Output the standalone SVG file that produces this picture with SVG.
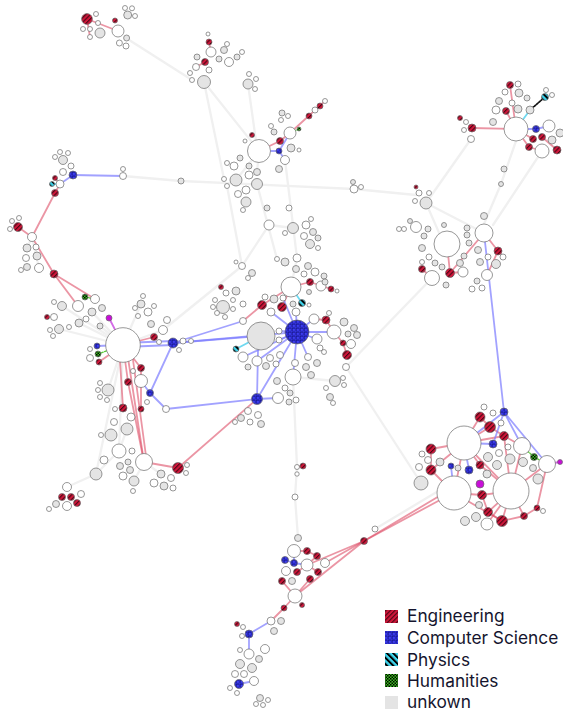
<svg xmlns="http://www.w3.org/2000/svg" width="563" height="711" viewBox="0 0 563 711">
<defs>
<pattern id="pe" patternUnits="userSpaceOnUse" width="3.2" height="3.2" patternTransform="rotate(45)"><rect width="3.2" height="3.2" fill="#d0163a"/><rect width="1.1" height="3.2" fill="#4a0614"/></pattern>
<pattern id="pc" patternUnits="userSpaceOnUse" width="4" height="4"><rect width="4" height="4" fill="#3d3df2"/><rect x="0.6" y="0.6" width="2.6" height="2.6" fill="none" stroke="#15158a" stroke-width="0.6"/></pattern>
<pattern id="pp" patternUnits="userSpaceOnUse" width="4.4" height="4.4" patternTransform="rotate(-45)"><rect width="4.4" height="4.4" fill="#3fd6ee"/><rect width="2" height="4.4" fill="#000"/></pattern>
<pattern id="ph" patternUnits="userSpaceOnUse" width="3" height="3"><rect width="3" height="3" fill="#39c21f"/><rect width="1.5" height="1.5" fill="#000"/><rect x="1.5" y="1.5" width="1.5" height="1.5" fill="#000"/></pattern>
</defs>
<style>
#nodes circle{stroke:#6b6b6b;stroke-width:0.7}
.n{fill:#fff}.u{fill:#e4e4e4}.e{fill:url(#pe)}.c{fill:url(#pc)}.p{fill:url(#pp)}.h{fill:url(#ph)}.m{fill:#c80fd8}
#edges line{fill:none;stroke-linecap:round}
.g{stroke:#f0f0f0;stroke-width:2.3}
.r{stroke:#dd4f68;stroke-opacity:0.6;stroke-width:1.8}
.b{stroke:#7b7bff;stroke-opacity:0.7;stroke-width:1.8}
.y{stroke:#6fd9f0;stroke-width:1.8}
.k{stroke:#111;stroke-width:1.8;stroke-dasharray:1.5 1.5}
.gr{stroke:#5ccc3c;stroke-width:1.4;stroke-dasharray:2 1.5}
.mg{stroke:#d36ce6;stroke-width:1.8}
.lt{font-family:Inter,"Liberation Sans",sans-serif;font-size:17.3px;fill:#15152e}
</style>
<rect width="563" height="711" fill="#fff"/>
<g id="edges">
<line class="g" x1="126" y1="38" x2="192" y2="80"/>
<line class="g" x1="204" y1="82" x2="259" y2="151"/>
<line class="g" x1="248" y1="84" x2="256" y2="141"/>
<line class="g" x1="204" y1="82" x2="224" y2="179"/>
<line class="g" x1="227" y1="186" x2="242" y2="266"/>
<line class="g" x1="123" y1="176" x2="181" y2="181"/>
<line class="g" x1="181" y1="181" x2="354" y2="189"/>
<line class="g" x1="354" y1="189" x2="416" y2="195"/>
<line class="g" x1="257" y1="184" x2="277" y2="259"/>
<line class="g" x1="285" y1="160" x2="297" y2="258"/>
<line class="g" x1="269" y1="225" x2="242" y2="266"/>
<line class="g" x1="269" y1="225" x2="293" y2="228"/>
<line class="g" x1="291" y1="287" x2="297" y2="258"/>
<line class="g" x1="293" y1="377" x2="297" y2="467"/>
<line class="g" x1="297" y1="467" x2="295" y2="497"/>
<line class="g" x1="295" y1="497" x2="298" y2="538"/>
<line class="g" x1="346" y1="367" x2="432" y2="278"/>
<line class="g" x1="346" y1="367" x2="421" y2="483"/>
<line class="g" x1="123" y1="345" x2="163" y2="330"/>
<line class="g" x1="163" y1="330" x2="242" y2="266"/>
<line class="g" x1="123" y1="345" x2="59" y2="329"/>
<line class="g" x1="123" y1="345" x2="92" y2="312"/>
<line class="g" x1="123" y1="345" x2="62" y2="306"/>
<line class="g" x1="123" y1="345" x2="141" y2="304"/>
<line class="g" x1="123" y1="345" x2="100" y2="326"/>
<line class="g" x1="123" y1="345" x2="79" y2="323"/>
<line class="g" x1="123" y1="345" x2="108" y2="390"/>
<line class="g" x1="123" y1="345" x2="119" y2="451"/>
<line class="g" x1="123" y1="345" x2="96" y2="474"/>
<line class="g" x1="119" y1="451" x2="96" y2="474"/>
<line class="g" x1="96" y1="474" x2="67" y2="487"/>
<line class="g" x1="144" y1="462" x2="161" y2="474"/>
<line class="g" x1="144" y1="462" x2="134" y2="481"/>
<line class="g" x1="119" y1="451" x2="127" y2="429"/>
<line class="g" x1="32" y1="237" x2="27" y2="248"/>
<line class="g" x1="32" y1="237" x2="39" y2="268"/>
<line class="g" x1="471" y1="139" x2="426" y2="203"/>
<line class="g" x1="516" y1="141" x2="501" y2="184"/>
<line class="g" x1="501" y1="184" x2="484" y2="224"/>
<line class="g" x1="542" y1="151" x2="493" y2="225"/>
<line class="g" x1="426" y1="203" x2="484" y2="233"/>
<line class="g" x1="426" y1="203" x2="440" y2="235"/>
<line class="g" x1="375" y1="529" x2="440" y2="490"/>
<line class="g" x1="259" y1="151" x2="236" y2="180"/>
<line class="g" x1="259" y1="151" x2="257" y2="172"/>
<line class="g" x1="293" y1="377" x2="335" y2="381"/>
<line class="r" x1="87" y1="19" x2="118" y2="31"/>
<line class="r" x1="87" y1="19" x2="90" y2="37"/>
<line class="r" x1="209" y1="42" x2="211" y2="52"/>
<line class="r" x1="205" y1="62" x2="196" y2="67"/>
<line class="r" x1="280" y1="141" x2="259" y2="151"/>
<line class="r" x1="290" y1="133" x2="280" y2="141"/>
<line class="r" x1="290" y1="133" x2="325" y2="101"/>
<line class="r" x1="55" y1="193" x2="32" y2="237"/>
<line class="r" x1="55" y1="193" x2="60" y2="184"/>
<line class="r" x1="55" y1="178" x2="60" y2="184"/>
<line class="r" x1="18" y1="227" x2="32" y2="237"/>
<line class="r" x1="32" y1="237" x2="54" y2="274"/>
<line class="r" x1="54" y1="274" x2="78" y2="306"/>
<line class="r" x1="54" y1="274" x2="95" y2="299"/>
<line class="r" x1="123" y1="345" x2="154" y2="337"/>
<line class="r" x1="123" y1="345" x2="141" y2="368"/>
<line class="r" x1="123" y1="345" x2="128" y2="382"/>
<line class="r" x1="119" y1="345" x2="123" y2="408"/>
<line class="r" x1="126" y1="345" x2="144" y2="462"/>
<line class="r" x1="131" y1="345" x2="146" y2="456"/>
<line class="r" x1="128" y1="382" x2="144" y2="462"/>
<line class="r" x1="141" y1="368" x2="141" y2="381"/>
<line class="r" x1="141" y1="381" x2="141" y2="409"/>
<line class="r" x1="144" y1="462" x2="178" y2="468"/>
<line class="r" x1="178" y1="468" x2="257" y2="399"/>
<line class="r" x1="99" y1="362" x2="123" y2="345"/>
<line class="r" x1="243" y1="321" x2="262" y2="305"/>
<line class="r" x1="262" y1="305" x2="291" y2="287"/>
<line class="r" x1="282" y1="307" x2="291" y2="287"/>
<line class="r" x1="310" y1="282" x2="291" y2="287"/>
<line class="r" x1="310" y1="282" x2="331" y2="289"/>
<line class="r" x1="314" y1="319" x2="326" y2="320"/>
<line class="r" x1="326" y1="320" x2="334" y2="332"/>
<line class="r" x1="334" y1="332" x2="343" y2="343"/>
<line class="r" x1="343" y1="343" x2="347" y2="355"/>
<line class="r" x1="297" y1="467" x2="303" y2="466"/>
<line class="r" x1="364" y1="541" x2="440" y2="500"/>
<line class="r" x1="364" y1="541" x2="446" y2="492"/>
<line class="r" x1="295" y1="596" x2="364" y2="541"/>
<line class="r" x1="307" y1="565" x2="364" y2="541"/>
<line class="r" x1="325" y1="563" x2="364" y2="541"/>
<line class="r" x1="295" y1="596" x2="284" y2="608"/>
<line class="r" x1="284" y1="608" x2="271" y2="621"/>
<line class="r" x1="307" y1="551" x2="294" y2="551"/>
<line class="r" x1="317" y1="556" x2="307" y2="565"/>
<line class="r" x1="297" y1="572" x2="307" y2="565"/>
<line class="r" x1="318" y1="572" x2="307" y2="565"/>
<line class="r" x1="282" y1="581" x2="295" y2="596"/>
<line class="r" x1="310" y1="579" x2="295" y2="596"/>
<line class="r" x1="307" y1="551" x2="317" y2="556"/>
<line class="r" x1="472" y1="128" x2="516" y2="129"/>
<line class="r" x1="510" y1="85" x2="516" y2="129"/>
<line class="r" x1="506" y1="111" x2="516" y2="129"/>
<line class="r" x1="533" y1="139" x2="516" y2="129"/>
<line class="r" x1="529" y1="147" x2="516" y2="129"/>
<line class="r" x1="542" y1="137" x2="557" y2="150"/>
<line class="r" x1="529" y1="147" x2="542" y2="151"/>
<line class="r" x1="447" y1="244" x2="450" y2="273"/>
<line class="r" x1="450" y1="273" x2="484" y2="233"/>
<line class="r" x1="498" y1="251" x2="484" y2="233"/>
<line class="r" x1="498" y1="251" x2="487" y2="275"/>
<line class="r" x1="422" y1="269" x2="432" y2="278"/>
<line class="r" x1="450" y1="273" x2="463" y2="272"/>
<line class="r" x1="480" y1="417" x2="464" y2="443"/>
<line class="r" x1="490" y1="427" x2="464" y2="443"/>
<line class="r" x1="504" y1="436" x2="464" y2="443"/>
<line class="r" x1="480" y1="417" x2="490" y2="427"/>
<line class="r" x1="490" y1="427" x2="504" y2="436"/>
<line class="r" x1="431" y1="449" x2="464" y2="443"/>
<line class="r" x1="431" y1="470" x2="464" y2="443"/>
<line class="r" x1="431" y1="449" x2="431" y2="470"/>
<line class="r" x1="431" y1="470" x2="454" y2="493"/>
<line class="r" x1="482" y1="495" x2="454" y2="493"/>
<line class="r" x1="482" y1="495" x2="511" y2="491"/>
<line class="r" x1="488" y1="512" x2="511" y2="491"/>
<line class="r" x1="502" y1="521" x2="511" y2="491"/>
<line class="r" x1="502" y1="521" x2="454" y2="493"/>
<line class="r" x1="488" y1="512" x2="502" y2="521"/>
<line class="r" x1="487" y1="524" x2="511" y2="491"/>
<line class="r" x1="480" y1="465" x2="511" y2="491"/>
<line class="r" x1="480" y1="465" x2="464" y2="443"/>
<line class="r" x1="504" y1="436" x2="511" y2="491"/>
<line class="r" x1="524" y1="516" x2="511" y2="491"/>
<line class="r" x1="537" y1="508" x2="547" y2="464"/>
<line class="r" x1="537" y1="508" x2="524" y2="516"/>
<line class="r" x1="482" y1="495" x2="488" y2="512"/>
<line class="r" x1="464" y1="443" x2="511" y2="491"/>
<line class="r" x1="454" y1="493" x2="464" y2="443"/>
<line class="r" x1="504" y1="436" x2="522" y2="446"/>
<line class="r" x1="522" y1="446" x2="511" y2="491"/>
<line class="r" x1="547" y1="464" x2="511" y2="491"/>
<line class="r" x1="502" y1="521" x2="524" y2="516"/>
<line class="b" x1="73" y1="175" x2="123" y2="176"/>
<line class="b" x1="73" y1="175" x2="60" y2="184"/>
<line class="b" x1="123" y1="343" x2="173" y2="341"/>
<line class="b" x1="123" y1="347" x2="173" y2="345"/>
<line class="b" x1="173" y1="343" x2="261" y2="336"/>
<line class="b" x1="173" y1="343" x2="297" y2="332"/>
<line class="b" x1="173" y1="343" x2="243" y2="321"/>
<line class="b" x1="173" y1="343" x2="150" y2="393"/>
<line class="b" x1="150" y1="393" x2="166" y2="409"/>
<line class="b" x1="166" y1="409" x2="257" y2="399"/>
<line class="b" x1="257" y1="399" x2="258" y2="350"/>
<line class="b" x1="257" y1="399" x2="278" y2="398"/>
<line class="b" x1="257" y1="399" x2="297" y2="332"/>
<line class="b" x1="141" y1="381" x2="150" y2="393"/>
<line class="b" x1="97" y1="346" x2="123" y2="345"/>
<line class="b" x1="297" y1="332" x2="314" y2="319"/>
<line class="b" x1="297" y1="332" x2="317" y2="339"/>
<line class="b" x1="297" y1="332" x2="279" y2="331"/>
<line class="b" x1="297" y1="332" x2="279" y2="340"/>
<line class="b" x1="297" y1="332" x2="296" y2="312"/>
<line class="b" x1="297" y1="332" x2="283" y2="298"/>
<line class="b" x1="297" y1="332" x2="271" y2="312"/>
<line class="b" x1="297" y1="332" x2="293" y2="377"/>
<line class="b" x1="297" y1="332" x2="308" y2="357"/>
<line class="b" x1="297" y1="332" x2="257" y2="361"/>
<line class="b" x1="297" y1="332" x2="243" y2="357"/>
<line class="b" x1="297" y1="332" x2="334" y2="332"/>
<line class="b" x1="484" y1="233" x2="504" y2="412"/>
<line class="b" x1="504" y1="412" x2="464" y2="443"/>
<line class="b" x1="504" y1="412" x2="522" y2="446"/>
<line class="b" x1="504" y1="412" x2="547" y2="464"/>
<line class="b" x1="504" y1="412" x2="493" y2="444"/>
<line class="b" x1="493" y1="444" x2="464" y2="443"/>
<line class="b" x1="469" y1="470" x2="464" y2="443"/>
<line class="b" x1="451" y1="466" x2="454" y2="493"/>
<line class="b" x1="536" y1="129" x2="516" y2="129"/>
<line class="b" x1="536" y1="129" x2="549" y2="126"/>
<line class="b" x1="279" y1="151" x2="259" y2="151"/>
<line class="b" x1="279" y1="151" x2="290" y2="133"/>
<line class="b" x1="279" y1="151" x2="285" y2="160"/>
<line class="b" x1="285" y1="560" x2="294" y2="563"/>
<line class="b" x1="294" y1="563" x2="307" y2="565"/>
<line class="b" x1="294" y1="551" x2="294" y2="563"/>
<line class="b" x1="249" y1="634" x2="271" y2="621"/>
<line class="b" x1="249" y1="634" x2="249" y2="654"/>
<line class="b" x1="239" y1="684" x2="254" y2="681"/>
<line class="y" x1="302" y1="303" x2="291" y2="287"/>
<line class="y" x1="236" y1="349" x2="261" y2="336"/>
<line class="y" x1="516" y1="129" x2="530" y2="110"/>
<line class="y" x1="52" y1="184" x2="60" y2="184"/>
<line class="k" x1="530" y1="110" x2="545" y2="97"/>
<line class="gr" x1="534" y1="457" x2="522" y2="446"/>
<line class="gr" x1="534" y1="457" x2="547" y2="464"/>
<line class="gr" x1="98" y1="354" x2="123" y2="345"/>
<line class="gr" x1="85" y1="297" x2="95" y2="299"/>
<line class="gr" x1="299" y1="129" x2="290" y2="133"/>
<line class="mg" x1="109" y1="318" x2="123" y2="345"/>
<line class="mg" x1="560" y1="462" x2="547" y2="464"/>
</g>
<g id="nodes">
<g id="a1"><circle class="e" cx="87" cy="19" r="5.4"/></g>
<g id="a2"><circle class="n" cx="96" cy="14" r="2.5"/></g>
<g id="a3"><circle class="n" cx="98" cy="23" r="2.5"/></g>
<g id="a4"><circle class="n" cx="83" cy="29" r="2.5"/></g>
<g id="a5"><circle class="n" cx="90" cy="29" r="2.5"/></g>
<g id="a6"><circle class="n" cx="90" cy="37" r="2.5"/></g>
<g id="a7"><circle class="u" cx="100" cy="33" r="5"/></g>
<g id="a8"><circle class="n" cx="118" cy="31" r="6"/></g>
<g id="a9"><circle class="e" cx="115" cy="20.5" r="2.5"/></g>
<g id="a10"><circle class="u" cx="127.7" cy="15" r="4"/></g>
<g id="a11"><circle class="n" cx="125" cy="8" r="2.5"/></g>
<g id="a12"><circle class="n" cx="132" cy="8.3" r="2.5"/></g>
<g id="a13"><circle class="n" cx="135" cy="16" r="2.5"/></g>
<g id="a14"><circle class="u" cx="126.6" cy="38" r="3"/></g>
<g id="a15"><circle class="n" cx="119.4" cy="43" r="3"/></g>
<g id="a16"><circle class="n" cx="126" cy="46" r="3"/></g>
<g id="b1"><circle class="n" cx="208" cy="34" r="2"/></g>
<g id="b2"><circle class="e" cx="209" cy="42" r="3"/></g>
<g id="b3"><circle class="n" cx="211" cy="52" r="5"/></g>
<g id="b4"><circle class="u" cx="224" cy="50" r="3.5"/></g>
<g id="b5"><circle class="n" cx="227" cy="44" r="2.5"/></g>
<g id="b6"><circle class="u" cx="219" cy="59" r="3"/></g>
<g id="b7"><circle class="n" cx="229" cy="62" r="4.5"/></g>
<g id="b8"><circle class="u" cx="237" cy="57" r="3"/></g>
<g id="b9"><circle class="n" cx="242" cy="52" r="2.5"/></g>
<g id="b10"><circle class="e" cx="205" cy="62" r="3.5"/></g>
<g id="b11"><circle class="n" cx="196" cy="67" r="3.5"/></g>
<g id="b12"><circle class="u" cx="197" cy="57" r="3"/></g>
<g id="b13"><circle class="n" cx="209" cy="70" r="3"/></g>
<g id="b14"><circle class="n" cx="190" cy="73" r="2.5"/></g>
<g id="b15"><circle class="n" cx="192" cy="80" r="2.5"/></g>
<g id="b16"><circle class="u" cx="204" cy="82" r="6.5"/></g>
<g id="b17"><circle class="u" cx="248" cy="84" r="5"/></g>
<g id="b18"><circle class="n" cx="249" cy="74" r="2.5"/></g>
<g id="b19"><circle class="n" cx="256" cy="79" r="2.5"/></g>
<g id="b20"><circle class="n" cx="255" cy="89" r="2.5"/></g>
<g id="c1"><circle class="e" cx="252" cy="135" r="2.5"/></g>
<g id="c2"><circle class="n" cx="245" cy="141" r="2"/></g>
<g id="c3"><circle class="n" cx="259" cy="151" r="11.5"/></g>
<g id="c4"><circle class="e" cx="280" cy="141" r="3.5"/></g>
<g id="c5"><circle class="c" cx="279" cy="151" r="3"/></g>
<g id="c6"><circle class="n" cx="290" cy="133" r="6"/></g>
<g id="c7"><circle class="h" cx="299" cy="129" r="2"/></g>
<g id="c8"><circle class="u" cx="291" cy="148" r="4"/></g>
<g id="c9"><circle class="n" cx="299" cy="150" r="2"/></g>
<g id="c10"><circle class="n" cx="285" cy="160" r="4.5"/></g>
<g id="c11"><circle class="u" cx="279" cy="169" r="3.5"/></g>
<g id="c12"><circle class="n" cx="271" cy="126" r="2.5"/></g>
<g id="c13"><circle class="u" cx="274" cy="132" r="3"/></g>
<g id="c14"><circle class="u" cx="282" cy="113" r="3"/></g>
<g id="c15"><circle class="n" cx="288" cy="116" r="2.5"/></g>
<g id="c16"><circle class="n" cx="281" cy="120" r="2.5"/></g>
<g id="c17"><circle class="e" cx="309" cy="116" r="3"/></g>
<g id="c18"><circle class="n" cx="315" cy="110" r="3"/></g>
<g id="c19"><circle class="e" cx="320" cy="106" r="3"/></g>
<g id="c20"><circle class="n" cx="325" cy="101" r="2.5"/></g>
<g id="c21"><circle class="u" cx="240" cy="158" r="3"/></g>
<g id="c22"><circle class="n" cx="234" cy="166" r="4"/></g>
<g id="c23"><circle class="n" cx="227" cy="163" r="2.5"/></g>
<g id="c24"><circle class="u" cx="249" cy="166" r="3"/></g>
<g id="c25"><circle class="u" cx="257" cy="172" r="3.5"/></g>
<g id="c26"><circle class="n" cx="249" cy="175" r="4"/></g>
<g id="c27"><circle class="u" cx="236" cy="180" r="6"/></g>
<g id="c28"><circle class="n" cx="224" cy="179" r="2.5"/></g>
<g id="c29"><circle class="n" cx="227" cy="186" r="2.5"/></g>
<g id="c30"><circle class="u" cx="257" cy="184" r="5.5"/></g>
<g id="c31"><circle class="n" cx="246" cy="190" r="4"/></g>
<g id="c32"><circle class="n" cx="238" cy="194" r="3.5"/></g>
<g id="c33"><circle class="u" cx="246" cy="202" r="5"/></g>
<g id="c34"><circle class="n" cx="243" cy="210" r="2.5"/></g>
<g id="s1"><circle class="u" cx="181" cy="181" r="3"/></g>
<g id="s2"><circle class="u" cx="267" cy="208" r="3"/></g>
<g id="s3"><circle class="n" cx="289" cy="208" r="3"/></g>
<g id="c35"><circle class="n" cx="269" cy="225" r="5"/></g>
<g id="c36"><circle class="u" cx="293" cy="228" r="5.5"/></g>
<g id="c37"><circle class="n" cx="285" cy="233" r="2.5"/></g>
<g id="c38"><circle class="n" cx="306" cy="225" r="4"/></g>
<g id="c39"><circle class="n" cx="311" cy="219" r="2.5"/></g>
<g id="c40"><circle class="u" cx="313" cy="232" r="3.5"/></g>
<g id="c41"><circle class="n" cx="304" cy="236" r="3.5"/></g>
<g id="c42"><circle class="u" cx="318" cy="238" r="3"/></g>
<g id="c43"><circle class="u" cx="310" cy="244" r="4.5"/></g>
<g id="c44"><circle class="n" cx="318" cy="248" r="2.5"/></g>
<g id="s4"><circle class="u" cx="353" cy="182" r="2.5"/></g>
<g id="s5"><circle class="n" cx="354" cy="189" r="4"/></g>
<g id="s6"><circle class="n" cx="361" cy="187" r="2.5"/></g>
<g id="l1"><circle class="u" cx="63" cy="160" r="4.5"/></g>
<g id="l2"><circle class="n" cx="55" cy="157" r="2.5"/></g>
<g id="l3"><circle class="n" cx="60" cy="152" r="2.5"/></g>
<g id="l4"><circle class="n" cx="68" cy="153" r="2.5"/></g>
<g id="l5"><circle class="n" cx="71" cy="166" r="3"/></g>
<g id="l6"><circle class="n" cx="63" cy="172" r="3.5"/></g>
<g id="l7"><circle class="c" cx="73" cy="175" r="4"/></g>
<g id="l8"><circle class="e" cx="55" cy="178" r="2.5"/></g>
<g id="l9"><circle class="p" cx="52" cy="184" r="2.5"/></g>
<g id="l10"><circle class="n" cx="60" cy="184" r="4"/></g>
<g id="l11"><circle class="e" cx="55" cy="193" r="3.5"/></g>
<g id="l12"><circle class="n" cx="123" cy="169" r="2.5"/></g>
<g id="l13"><circle class="n" cx="123" cy="176" r="3.5"/></g>
<g id="l14"><circle class="e" cx="18" cy="227" r="4.5"/></g>
<g id="l15"><circle class="n" cx="12" cy="221" r="2.5"/></g>
<g id="l16"><circle class="n" cx="19" cy="218" r="2.5"/></g>
<g id="l17"><circle class="n" cx="10" cy="229" r="2.5"/></g>
<g id="l18"><circle class="n" cx="32" cy="237" r="4.5"/></g>
<g id="l19"><circle class="u" cx="27" cy="248" r="4"/></g>
<g id="l20"><circle class="n" cx="36" cy="247" r="3"/></g>
<g id="l21"><circle class="n" cx="26" cy="258" r="3.5"/></g>
<g id="l22"><circle class="u" cx="37" cy="256" r="4"/></g>
<g id="l23"><circle class="u" cx="27" cy="267" r="3.5"/></g>
<g id="l24"><circle class="n" cx="21" cy="270" r="2.5"/></g>
<g id="l25"><circle class="n" cx="39" cy="268" r="4.5"/></g>
<g id="l26"><circle class="e" cx="54" cy="274" r="4"/></g>
<g id="l27"><circle class="h" cx="85" cy="297" r="3"/></g>
<g id="l28"><circle class="n" cx="95" cy="299" r="4.5"/></g>
<g id="l29"><circle class="n" cx="78" cy="306" r="5.5"/></g>
<g id="l30"><circle class="u" cx="102" cy="308" r="3.5"/></g>
<g id="l31"><circle class="m" cx="109" cy="318" r="3"/></g>
<g id="l32"><circle class="u" cx="62" cy="306" r="4.5"/></g>
<g id="l33"><circle class="n" cx="54" cy="302" r="2.5"/></g>
<g id="l34"><circle class="u" cx="92" cy="312" r="4"/></g>
<g id="l35"><circle class="n" cx="86" cy="319" r="3"/></g>
<g id="l36"><circle class="e" cx="47" cy="317" r="2.5"/></g>
<g id="l37"><circle class="n" cx="54" cy="317" r="3.5"/></g>
<g id="l38"><circle class="u" cx="59" cy="329" r="4.5"/></g>
<g id="l39"><circle class="n" cx="50" cy="330" r="2.5"/></g>
<g id="l40"><circle class="n" cx="53" cy="336" r="2.5"/></g>
<g id="l41"><circle class="n" cx="69" cy="327" r="2.5"/></g>
<g id="l42"><circle class="u" cx="79" cy="323" r="4"/></g>
<g id="l43"><circle class="u" cx="100" cy="326" r="3"/></g>
<g id="l44"><circle class="u" cx="141" cy="304" r="4"/></g>
<g id="l45"><circle class="n" cx="143" cy="296" r="2.5"/></g>
<g id="l46"><circle class="n" cx="135" cy="308" r="2.5"/></g>
<g id="l47"><circle class="n" cx="148" cy="312" r="4"/></g>
<g id="l48"><circle class="n" cx="154" cy="306" r="2.5"/></g>
<g id="l49"><circle class="n" cx="138" cy="316" r="2.5"/></g>
<g id="l50"><circle class="u" cx="151" cy="324" r="3.5"/></g>
<g id="l51"><circle class="n" cx="167" cy="320" r="3.5"/></g>
<g id="l52"><circle class="n" cx="163" cy="330" r="4.5"/></g>
<g id="l53"><circle class="n" cx="123" cy="345" r="17.3"/></g>
<g id="l54"><circle class="e" cx="154" cy="337" r="3.5"/></g>
<g id="l55"><circle class="c" cx="97" cy="346" r="3"/></g>
<g id="l56"><circle class="n" cx="90" cy="349" r="2.5"/></g>
<g id="l57"><circle class="h" cx="98" cy="354" r="3"/></g>
<g id="l58"><circle class="n" cx="90" cy="358" r="3.5"/></g>
<g id="l59"><circle class="e" cx="99" cy="362" r="3"/></g>
<g id="l60"><circle class="c" cx="173" cy="343" r="5"/></g>
<g id="l61"><circle class="n" cx="159" cy="342" r="2.5"/></g>
<g id="l62"><circle class="n" cx="183" cy="341" r="3"/></g>
<g id="l63"><circle class="n" cx="191" cy="341" r="2.5"/></g>
<g id="l64"><circle class="n" cx="179" cy="350" r="2.5"/></g>
<g id="l65"><circle class="e" cx="141" cy="368" r="3.5"/></g>
<g id="l66"><circle class="n" cx="133" cy="371" r="2.5"/></g>
<g id="l67"><circle class="e" cx="128" cy="382" r="3.5"/></g>
<g id="l68"><circle class="n" cx="141" cy="381" r="6.5"/></g>
<g id="l69"><circle class="c" cx="150" cy="393" r="3.5"/></g>
<g id="l70"><circle class="n" cx="147" cy="402" r="2.5"/></g>
<g id="l71"><circle class="e" cx="141" cy="409" r="3"/></g>
<g id="l72"><circle class="n" cx="166" cy="409" r="3.5"/></g>
<g id="l73"><circle class="e" cx="123" cy="408" r="4"/></g>
<g id="l74"><circle class="n" cx="115" cy="409" r="2.5"/></g>
<g id="l75"><circle class="n" cx="131" cy="417" r="4"/></g>
<g id="l76"><circle class="u" cx="108" cy="390" r="6"/></g>
<g id="l77"><circle class="n" cx="100" cy="383" r="2.5"/></g>
<g id="l78"><circle class="n" cx="98" cy="390" r="2.5"/></g>
<g id="l79"><circle class="n" cx="100" cy="397" r="2.5"/></g>
<g id="l80"><circle class="n" cx="107" cy="400" r="2.5"/></g>
<g id="l81"><circle class="n" cx="114" cy="422" r="3.5"/></g>
<g id="l82"><circle class="u" cx="127" cy="429" r="6"/></g>
<g id="l83"><circle class="u" cx="111" cy="435" r="6"/></g>
<g id="l84"><circle class="n" cx="101" cy="435" r="2.5"/></g>
<g id="l85"><circle class="n" cx="119" cy="451" r="7"/></g>
<g id="l86"><circle class="n" cx="132" cy="451" r="3"/></g>
<g id="l87"><circle class="n" cx="104" cy="460" r="4"/></g>
<g id="l88"><circle class="n" cx="144" cy="462" r="8.5"/></g>
<g id="l89"><circle class="u" cx="120" cy="466" r="3.5"/></g>
<g id="l90"><circle class="u" cx="128" cy="462" r="3"/></g>
<g id="l91"><circle class="u" cx="130" cy="470" r="3.5"/></g>
<g id="l92"><circle class="n" cx="123" cy="476" r="4"/></g>
<g id="l93"><circle class="u" cx="96" cy="474" r="6"/></g>
<g id="l94"><circle class="u" cx="134" cy="481" r="5"/></g>
<g id="l95"><circle class="n" cx="133" cy="491" r="2.5"/></g>
<g id="l96"><circle class="u" cx="161" cy="474" r="4"/></g>
<g id="l97"><circle class="n" cx="171" cy="478" r="3.5"/></g>
<g id="l98"><circle class="n" cx="154" cy="483" r="4"/></g>
<g id="l99"><circle class="u" cx="164" cy="486" r="4"/></g>
<g id="l100"><circle class="n" cx="173" cy="488" r="3"/></g>
<g id="l101"><circle class="e" cx="178" cy="468" r="5.5"/></g>
<g id="l102"><circle class="n" cx="187" cy="465" r="2.5"/></g>
<g id="l103"><circle class="n" cx="186" cy="473" r="2.5"/></g>
<g id="l104"><circle class="n" cx="67" cy="487" r="4.5"/></g>
<g id="l105"><circle class="e" cx="62" cy="497" r="3.5"/></g>
<g id="l106"><circle class="e" cx="71" cy="497" r="3.5"/></g>
<g id="l107"><circle class="n" cx="81" cy="494" r="3.5"/></g>
<g id="l108"><circle class="n" cx="67" cy="506" r="4.5"/></g>
<g id="l109"><circle class="e" cx="77" cy="503" r="3.5"/></g>
<g id="l110"><circle class="u" cx="56" cy="504" r="3.5"/></g>
<g id="l111"><circle class="n" cx="49" cy="509" r="2.5"/></g>
<g id="m1"><circle class="n" cx="242" cy="266" r="3.5"/></g>
<g id="m2"><circle class="n" cx="236" cy="262" r="2"/></g>
<g id="m3"><circle class="u" cx="252" cy="273" r="3.5"/></g>
<g id="m4"><circle class="n" cx="248" cy="278" r="2.5"/></g>
<g id="m5"><circle class="n" cx="277" cy="259" r="2.5"/></g>
<g id="m6"><circle class="u" cx="285" cy="262" r="4"/></g>
<g id="m7"><circle class="n" cx="297" cy="258" r="4"/></g>
<g id="m8"><circle class="u" cx="296" cy="269" r="3.5"/></g>
<g id="m9"><circle class="u" cx="308" cy="266" r="3.5"/></g>
<g id="m10"><circle class="n" cx="315" cy="272" r="4"/></g>
<g id="m11"><circle class="u" cx="324" cy="276" r="3"/></g>
<g id="m12"><circle class="n" cx="304" cy="274" r="3"/></g>
<g id="m13"><circle class="n" cx="291" cy="287" r="10"/></g>
<g id="m14"><circle class="e" cx="310" cy="282" r="3.5"/></g>
<g id="m15"><circle class="n" cx="321" cy="286" r="5"/></g>
<g id="m16"><circle class="e" cx="331" cy="289" r="3"/></g>
<g id="m17"><circle class="n" cx="337" cy="291" r="2"/></g>
<g id="m18"><circle class="u" cx="325" cy="282" r="3"/></g>
<g id="m19"><circle class="u" cx="309" cy="292" r="2.5"/></g>
<g id="m20"><circle class="e" cx="221" cy="287" r="2.5"/></g>
<g id="m21"><circle class="n" cx="226" cy="293" r="3"/></g>
<g id="m22"><circle class="u" cx="236" cy="291" r="4"/></g>
<g id="m23"><circle class="n" cx="233" cy="300" r="2.5"/></g>
<g id="m24"><circle class="u" cx="223" cy="307" r="6.5"/></g>
<g id="m25"><circle class="n" cx="215" cy="300" r="2.5"/></g>
<g id="m26"><circle class="n" cx="213" cy="307" r="2.5"/></g>
<g id="m27"><circle class="n" cx="217" cy="313" r="2.5"/></g>
<g id="m28"><circle class="n" cx="225" cy="317" r="2.5"/></g>
<g id="m29"><circle class="n" cx="233" cy="309" r="2.5"/></g>
<g id="m30"><circle class="n" cx="243" cy="304" r="3"/></g>
<g id="m31"><circle class="e" cx="262" cy="305" r="4.5"/></g>
<g id="m32"><circle class="n" cx="265" cy="297" r="3"/></g>
<g id="m33"><circle class="u" cx="274" cy="299" r="4"/></g>
<g id="m34"><circle class="e" cx="282" cy="307" r="4.5"/></g>
<g id="m35"><circle class="n" cx="271" cy="312" r="4"/></g>
<g id="m36"><circle class="n" cx="283" cy="298" r="3"/></g>
<g id="m37"><circle class="u" cx="293" cy="304" r="3"/></g>
<g id="m38"><circle class="n" cx="296" cy="312" r="4"/></g>
<g id="m39"><circle class="p" cx="302" cy="303" r="3.5"/></g>
<g id="m40"><circle class="n" cx="309" cy="305" r="2"/></g>
<g id="m41"><circle class="n" cx="243" cy="321" r="3.5"/></g>
<g id="m42"><circle class="u" cx="261" cy="336" r="14"/></g>
<g id="m43"><circle class="c" cx="297" cy="332" r="12"/></g>
<g id="m44"><circle class="n" cx="279" cy="331" r="3"/></g>
<g id="m45"><circle class="n" cx="279" cy="340" r="3"/></g>
<g id="m46"><circle class="n" cx="314" cy="319" r="5"/></g>
<g id="m47"><circle class="e" cx="326" cy="320" r="4"/></g>
<g id="m48"><circle class="n" cx="329" cy="313" r="2.5"/></g>
<g id="m49"><circle class="n" cx="334" cy="332" r="7"/></g>
<g id="m50"><circle class="n" cx="317" cy="339" r="5"/></g>
<g id="m51"><circle class="e" cx="343" cy="343" r="3"/></g>
<g id="m52"><circle class="n" cx="351" cy="344" r="4.5"/></g>
<g id="m53"><circle class="e" cx="347" cy="355" r="4.5"/></g>
<g id="m54"><circle class="n" cx="346" cy="367" r="3.5"/></g>
<g id="m55"><circle class="u" cx="344" cy="322" r="4"/></g>
<g id="m56"><circle class="u" cx="354" cy="328" r="3.5"/></g>
<g id="m57"><circle class="u" cx="357" cy="335" r="3.5"/></g>
<g id="m58"><circle class="u" cx="348" cy="334" r="3"/></g>
<g id="m59"><circle class="n" cx="320" cy="348" r="3"/></g>
<g id="m60"><circle class="n" cx="324" cy="352" r="2.5"/></g>
<g id="m61"><circle class="p" cx="236" cy="349" r="3"/></g>
<g id="m62"><circle class="n" cx="243" cy="357" r="5"/></g>
<g id="m63"><circle class="n" cx="257" cy="361" r="5"/></g>
<g id="m64"><circle class="u" cx="248" cy="367" r="3"/></g>
<g id="m65"><circle class="n" cx="270" cy="358" r="3.5"/></g>
<g id="m66"><circle class="u" cx="266" cy="366" r="3.5"/></g>
<g id="m67"><circle class="n" cx="276" cy="364" r="3"/></g>
<g id="m68"><circle class="n" cx="280" cy="355" r="3.5"/></g>
<g id="m69"><circle class="n" cx="295" cy="363" r="3.5"/></g>
<g id="m70"><circle class="n" cx="308" cy="357" r="3.5"/></g>
<g id="m71"><circle class="u" cx="306" cy="367" r="3.5"/></g>
<g id="m72"><circle class="u" cx="317" cy="363" r="3.5"/></g>
<g id="m73"><circle class="n" cx="293" cy="377" r="8"/></g>
<g id="m74"><circle class="u" cx="277" cy="381" r="3.5"/></g>
<g id="m75"><circle class="n" cx="285" cy="388" r="3"/></g>
<g id="m76"><circle class="u" cx="311" cy="375" r="3.5"/></g>
<g id="m77"><circle class="u" cx="335" cy="381" r="5.5"/></g>
<g id="m78"><circle class="n" cx="343" cy="378" r="2.5"/></g>
<g id="m79"><circle class="n" cx="344" cy="385" r="2.5"/></g>
<g id="m80"><circle class="n" cx="326" cy="388" r="2.5"/></g>
<g id="m81"><circle class="u" cx="330" cy="397" r="3.5"/></g>
<g id="m82"><circle class="n" cx="333" cy="403" r="2.5"/></g>
<g id="m83"><circle class="c" cx="257" cy="399" r="5.5"/></g>
<g id="m84"><circle class="n" cx="278" cy="398" r="5.5"/></g>
<g id="m85"><circle class="u" cx="290" cy="393" r="3"/></g>
<g id="m86"><circle class="n" cx="296" cy="400" r="3"/></g>
<g id="m87"><circle class="u" cx="289" cy="402" r="3"/></g>
<g id="m88"><circle class="n" cx="248" cy="411" r="3.5"/></g>
<g id="m89"><circle class="n" cx="258" cy="415" r="3.5"/></g>
<g id="m90"><circle class="u" cx="261" cy="424" r="3.5"/></g>
<g id="m91"><circle class="u" cx="241" cy="418" r="3.5"/></g>
<g id="m92"><circle class="n" cx="235" cy="422" r="2.5"/></g>
<g id="m93"><circle class="n" cx="250" cy="422" r="3"/></g>
<g id="v0"><circle class="n" cx="297" cy="467" r="2.5"/></g>
<g id="v2"><circle class="e" cx="303" cy="466" r="3"/></g>
<g id="v3"><circle class="n" cx="297" cy="474" r="2.2"/></g>
<g id="v1"><circle class="n" cx="295" cy="497" r="3"/></g>
<g id="w1"><circle class="u" cx="298" cy="538" r="3.5"/></g>
<g id="w2"><circle class="n" cx="294" cy="551" r="6.5"/></g>
<g id="w3"><circle class="e" cx="307" cy="551" r="3.5"/></g>
<g id="w4"><circle class="e" cx="317" cy="556" r="3.5"/></g>
<g id="w5"><circle class="c" cx="285" cy="560" r="3.5"/></g>
<g id="w6"><circle class="c" cx="294" cy="563" r="3.5"/></g>
<g id="w7"><circle class="n" cx="307" cy="565" r="6"/></g>
<g id="w8"><circle class="n" cx="325" cy="563" r="4.5"/></g>
<g id="w9"><circle class="n" cx="286" cy="571" r="4.5"/></g>
<g id="w10"><circle class="e" cx="297" cy="572" r="3.5"/></g>
<g id="w11"><circle class="e" cx="318" cy="572" r="3.5"/></g>
<g id="w12"><circle class="u" cx="292" cy="581" r="3.5"/></g>
<g id="w13"><circle class="e" cx="282" cy="581" r="3.5"/></g>
<g id="w14"><circle class="e" cx="310" cy="579" r="3.5"/></g>
<g id="w15"><circle class="n" cx="295" cy="596" r="7"/></g>
<g id="w16"><circle class="e" cx="284" cy="608" r="3"/></g>
<g id="w17"><circle class="e" cx="302" cy="605" r="2.5"/></g>
<g id="w18"><circle class="e" cx="364" cy="541" r="3.5"/></g>
<g id="w19"><circle class="n" cx="375" cy="529" r="3"/></g>
<g id="w20"><circle class="n" cx="271" cy="621" r="4"/></g>
<g id="w21"><circle class="u" cx="281" cy="621" r="3.5"/></g>
<g id="w22"><circle class="u" cx="274" cy="631" r="3.5"/></g>
<g id="w23"><circle class="e" cx="237" cy="624" r="2.5"/></g>
<g id="w24"><circle class="n" cx="243" cy="627" r="2.5"/></g>
<g id="w25"><circle class="c" cx="249" cy="634" r="4"/></g>
<g id="w26"><circle class="n" cx="242" cy="636" r="2.5"/></g>
<g id="w27"><circle class="n" cx="265" cy="649" r="4.5"/></g>
<g id="w28"><circle class="u" cx="259" cy="659" r="3.5"/></g>
<g id="w29"><circle class="n" cx="249" cy="654" r="5"/></g>
<g id="w30"><circle class="n" cx="240" cy="650" r="2.5"/></g>
<g id="w31"><circle class="u" cx="240" cy="664" r="4.5"/></g>
<g id="w32"><circle class="u" cx="252" cy="668" r="4.5"/></g>
<g id="w33"><circle class="n" cx="235" cy="674" r="3.5"/></g>
<g id="w34"><circle class="n" cx="244" cy="674" r="3.5"/></g>
<g id="w35"><circle class="c" cx="239" cy="684" r="4.5"/></g>
<g id="w36"><circle class="n" cx="230" cy="688" r="2.5"/></g>
<g id="w37"><circle class="n" cx="237" cy="693" r="2.5"/></g>
<g id="w38"><circle class="n" cx="254" cy="681" r="4.5"/></g>
<g id="w39"><circle class="u" cx="260" cy="698" r="3.5"/></g>
<g id="w40"><circle class="n" cx="268" cy="700" r="2.5"/></g>
<g id="w41"><circle class="n" cx="256" cy="704" r="2.5"/></g>
<g id="w42"><circle class="n" cx="263" cy="705" r="2.5"/></g>
<g id="r1"><circle class="c" cx="504" cy="412" r="4"/></g>
<g id="r2"><circle class="n" cx="484" cy="407" r="3"/></g>
<g id="r3"><circle class="e" cx="480" cy="417" r="5"/></g>
<g id="r4"><circle class="n" cx="493" cy="413" r="3"/></g>
<g id="r5"><circle class="e" cx="490" cy="427" r="5.5"/></g>
<g id="r6"><circle class="n" cx="501" cy="423" r="3"/></g>
<g id="r7"><circle class="e" cx="504" cy="436" r="4.5"/></g>
<g id="r8"><circle class="n" cx="464" cy="443" r="17"/></g>
<g id="r9"><circle class="n" cx="522" cy="446" r="8.5"/></g>
<g id="r10"><circle class="c" cx="493" cy="444" r="4"/></g>
<g id="r11"><circle class="n" cx="499" cy="453" r="3.5"/></g>
<g id="r12"><circle class="e" cx="431" cy="449" r="5"/></g>
<g id="r13"><circle class="n" cx="422" cy="454" r="3"/></g>
<g id="r14"><circle class="n" cx="428" cy="460" r="3.5"/></g>
<g id="r15"><circle class="e" cx="431" cy="470" r="5"/></g>
<g id="r16"><circle class="n" cx="419" cy="467" r="3.5"/></g>
<g id="r17"><circle class="u" cx="440" cy="462" r="4"/></g>
<g id="r18"><circle class="c" cx="451" cy="466" r="3"/></g>
<g id="r19"><circle class="u" cx="458" cy="468" r="3"/></g>
<g id="r20"><circle class="c" cx="469" cy="470" r="4"/></g>
<g id="r21"><circle class="e" cx="480" cy="465" r="4"/></g>
<g id="r22"><circle class="u" cx="488" cy="457" r="4.5"/></g>
<g id="r23"><circle class="u" cx="497" cy="465" r="4.5"/></g>
<g id="r24"><circle class="u" cx="510" cy="459" r="5"/></g>
<g id="r25"><circle class="n" cx="508" cy="447" r="3"/></g>
<g id="r26"><circle class="u" cx="523" cy="462" r="4.5"/></g>
<g id="r27"><circle class="u" cx="533" cy="468" r="3.5"/></g>
<g id="r28"><circle class="h" cx="534" cy="457" r="3.5"/></g>
<g id="r29"><circle class="n" cx="547" cy="464" r="8.5"/></g>
<g id="r30"><circle class="m" cx="560" cy="462" r="2.5"/></g>
<g id="r31"><circle class="u" cx="538" cy="479" r="5"/></g>
<g id="r32"><circle class="u" cx="421" cy="483" r="7"/></g>
<g id="r33"><circle class="n" cx="454" cy="493" r="17"/></g>
<g id="r34"><circle class="m" cx="480" cy="484" r="4"/></g>
<g id="r35"><circle class="u" cx="487" cy="474" r="4"/></g>
<g id="r36"><circle class="n" cx="511" cy="491" r="18"/></g>
<g id="r37"><circle class="e" cx="482" cy="495" r="4.5"/></g>
<g id="r38"><circle class="u" cx="479" cy="505" r="3.5"/></g>
<g id="r39"><circle class="e" cx="488" cy="512" r="4.5"/></g>
<g id="r40"><circle class="e" cx="502" cy="521" r="5.5"/></g>
<g id="r41"><circle class="u" cx="476" cy="517" r="4.5"/></g>
<g id="r42"><circle class="u" cx="465" cy="521" r="4.5"/></g>
<g id="r43"><circle class="n" cx="487" cy="524" r="6"/></g>
<g id="r44"><circle class="e" cx="524" cy="516" r="3.5"/></g>
<g id="r45"><circle class="e" cx="537" cy="508" r="3"/></g>
<g id="r46"><circle class="n" cx="543" cy="511" r="2.5"/></g>
<g id="t1"><circle class="n" cx="516" cy="129" r="12"/></g>
<g id="t2"><circle class="c" cx="536" cy="129" r="3.5"/></g>
<g id="t3"><circle class="n" cx="549" cy="126" r="6"/></g>
<g id="t4"><circle class="u" cx="560" cy="133" r="4"/></g>
<g id="t5"><circle class="e" cx="533" cy="139" r="3.5"/></g>
<g id="t6"><circle class="e" cx="542" cy="137" r="3.5"/></g>
<g id="t7"><circle class="u" cx="552" cy="140" r="4"/></g>
<g id="t8"><circle class="e" cx="529" cy="147" r="3.5"/></g>
<g id="t9"><circle class="n" cx="542" cy="151" r="7"/></g>
<g id="t10"><circle class="e" cx="557" cy="150" r="4"/></g>
<g id="t11"><circle class="e" cx="472" cy="128" r="4"/></g>
<g id="t12"><circle class="e" cx="460" cy="118" r="2.5"/></g>
<g id="t13"><circle class="n" cx="466" cy="122" r="2.5"/></g>
<g id="t14"><circle class="n" cx="464" cy="130" r="2.5"/></g>
<g id="t15"><circle class="n" cx="471" cy="139" r="3.5"/></g>
<g id="t16"><circle class="u" cx="493" cy="122" r="3.5"/></g>
<g id="t17"><circle class="n" cx="496" cy="110" r="4"/></g>
<g id="t18"><circle class="e" cx="506" cy="111" r="3.5"/></g>
<g id="t19"><circle class="u" cx="499" cy="101" r="3.5"/></g>
<g id="t20"><circle class="n" cx="505" cy="92" r="3"/></g>
<g id="t21"><circle class="e" cx="510" cy="85" r="3.5"/></g>
<g id="t22"><circle class="n" cx="518" cy="84" r="3"/></g>
<g id="t23"><circle class="u" cx="519" cy="93" r="4"/></g>
<g id="t24"><circle class="n" cx="512" cy="103" r="3"/></g>
<g id="t25"><circle class="u" cx="518" cy="109" r="4"/></g>
<g id="t26"><circle class="u" cx="527" cy="98" r="3"/></g>
<g id="t27"><circle class="u" cx="530" cy="110" r="4"/></g>
<g id="t28"><circle class="p" cx="545" cy="97" r="3.5"/></g>
<g id="t29"><circle class="n" cx="546" cy="90" r="2.5"/></g>
<g id="t30"><circle class="n" cx="552" cy="95" r="2.5"/></g>
<g id="t31"><circle class="u" cx="504" cy="169" r="3"/></g>
<g id="k1"><circle class="e" cx="416" cy="187" r="2"/></g>
<g id="k2"><circle class="n" cx="419" cy="193" r="3"/></g>
<g id="k3"><circle class="n" cx="429" cy="193" r="2.5"/></g>
<g id="k4"><circle class="n" cx="415" cy="201" r="2.5"/></g>
<g id="k5"><circle class="u" cx="426" cy="203" r="6"/></g>
<g id="k6"><circle class="u" cx="501" cy="184" r="2.5"/></g>
<g id="k7"><circle class="n" cx="416" cy="227" r="5.5"/></g>
<g id="k8"><circle class="u" cx="410" cy="221" r="2.5"/></g>
<g id="k9"><circle class="n" cx="404" cy="229" r="2.5"/></g>
<g id="k10"><circle class="n" cx="399" cy="229" r="2.5"/></g>
<g id="k11"><circle class="u" cx="428" cy="229" r="3"/></g>
<g id="k12"><circle class="u" cx="424" cy="236" r="3"/></g>
<g id="k13"><circle class="n" cx="447" cy="244" r="13"/></g>
<g id="k14"><circle class="n" cx="484" cy="233" r="9"/></g>
<g id="k15"><circle class="u" cx="484" cy="216" r="3.5"/></g>
<g id="k16"><circle class="u" cx="444" cy="225" r="2.5"/></g>
<g id="k17"><circle class="u" cx="467" cy="228" r="3"/></g>
<g id="k18"><circle class="u" cx="467" cy="235" r="3"/></g>
<g id="k19"><circle class="u" cx="469" cy="243" r="3"/></g>
<g id="k20"><circle class="u" cx="478" cy="250" r="3.5"/></g>
<g id="k21"><circle class="e" cx="498" cy="251" r="4"/></g>
<g id="k22"><circle class="n" cx="503" cy="257" r="3"/></g>
<g id="k23"><circle class="u" cx="422" cy="248" r="3.5"/></g>
<g id="k24"><circle class="n" cx="429" cy="257" r="3"/></g>
<g id="k25"><circle class="u" cx="435" cy="263" r="3"/></g>
<g id="k26"><circle class="u" cx="442" cy="267" r="3"/></g>
<g id="k27"><circle class="n" cx="422" cy="262" r="2.5"/></g>
<g id="k28"><circle class="e" cx="422" cy="269" r="3.5"/></g>
<g id="k29"><circle class="n" cx="432" cy="278" r="7.5"/></g>
<g id="k30"><circle class="e" cx="450" cy="273" r="4.5"/></g>
<g id="k31"><circle class="n" cx="463" cy="272" r="5"/></g>
<g id="k32"><circle class="u" cx="460" cy="263" r="3.5"/></g>
<g id="k33"><circle class="u" cx="464" cy="256" r="3"/></g>
<g id="k34"><circle class="n" cx="488" cy="257" r="3"/></g>
<g id="k35"><circle class="u" cx="496" cy="264" r="4.5"/></g>
<g id="k36"><circle class="n" cx="487" cy="275" r="5.5"/></g>
<g id="k37"><circle class="u" cx="480" cy="262" r="3.5"/></g>
<g id="k38"><circle class="u" cx="477" cy="281" r="3"/></g>
<g id="k39"><circle class="u" cx="446" cy="285" r="3"/></g>
<g id="k40"><circle class="n" cx="482" cy="288" r="3"/></g>
<g id="k41"><circle class="n" cx="472" cy="289" r="3"/></g>
</g>
<g id="legend">
<rect x="385" y="610" width="13" height="13" fill="url(#pe)"/>
<text class="lt" x="407" y="622">Engineering</text>
<rect x="385" y="631" width="13" height="13" fill="url(#pc)"/>
<text class="lt" x="407" y="643.5">Computer Science</text>
<rect x="385" y="653" width="13" height="13" fill="url(#pp)"/>
<text class="lt" x="407" y="665.5">Physics</text>
<rect x="385" y="674" width="13" height="13" fill="url(#ph)"/>
<text class="lt" x="407" y="686.5">Humanities</text>
<rect x="385" y="696" width="13" height="13" fill="#e4e4e4"/>
<text class="lt" x="407" y="708">unkown</text>
</g>
</svg>
